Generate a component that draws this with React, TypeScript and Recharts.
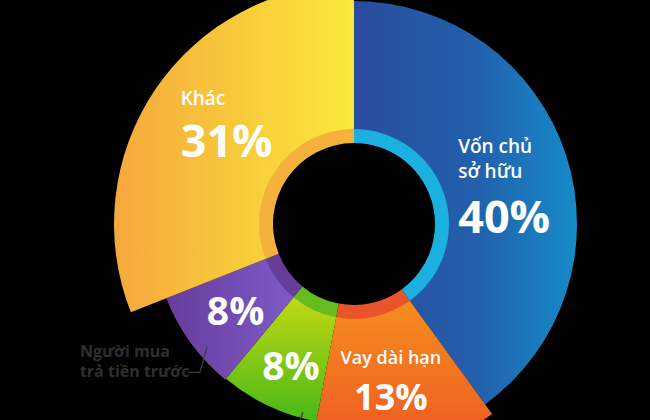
import React from 'react';
import { PieChart, Pie, Cell } from 'recharts';

// clockwise from 12 o'clock
const categories = ['Vốn chủ sở hữu', 'Vay dài hạn', 'Khoản khác', 'Người mua trả tiền trước', 'Khác'];
const shares = [40, 13, 8, 8, 31];
const insideNames = [['Vốn chủ', 'sở hữu'], ['Vay dài hạn'], [], [], ['Khác']];
const outsideNames = [[], [], [], ['Người mua', 'trả tiền trước'], []];

const data = categories.map((name, i) => ({ name, value: shares[i] }));

const FILLS = ['url(#gBlue)', 'url(#gOrange)', 'url(#gGreen)', 'url(#gPurple)', 'url(#gYellow)'];
const BANDS = ['#1cb0e0', '#e9552a', '#64bd1c', '#673d9c', '#f6b13c'];
const RADII = [223, 235, 201, 202, 240];

const CX = 354;
const CY = 224;
const LABEL_R = 160;
const RAD = Math.PI / 180;
const FONT = "'Open Sans', 'Noto Sans', sans-serif";

// per slice: anchor, x shift, baseline of each name line, baseline of the value
const LAYOUT = [
  { anchor: 'start', dx: -48, names: [-22, 3], value: 58, nameSize: 19, valueSize: 45 },
  { anchor: 'middle', dx: 2, names: [-16], value: 30, nameSize: 18, valueSize: 36 },
  { anchor: 'middle', dx: 5, names: [], value: 11, nameSize: 19, valueSize: 39 },
  { anchor: 'middle', dx: 11, names: [], value: 7, nameSize: 19, valueSize: 39 },
  { anchor: 'start', dx: -41, names: [-29], value: 23, nameSize: 19, valueSize: 45 },
];

const polar = (cx: number, cy: number, r: number, angle: number) => ({
  x: cx + r * Math.cos(-angle * RAD),
  y: cy + r * Math.sin(-angle * RAD),
});

const renderLabel = (props: any) => {
  const { cx, cy, midAngle, index, value } = props;
  const l = LAYOUT[index];
  const p = polar(cx, cy, LABEL_R, midAngle);
  const x = p.x + l.dx;
  const out = outsideNames[index];
  let pointer = null;
  if (index === 3) {
    const s = polar(cx, cy, 192, midAngle + 4);
    pointer = (
      <g>
        <polyline
          points={`${s.x},${s.y} ${s.x - 7},${s.y + 25} ${s.x - 19},${s.y + 25}`}
          fill="none"
          stroke="#3a3a3a"
          strokeWidth={1.3}
        />
        {out.map((t, k) => (
          <text key={k} x={s.x - 127} y={s.y + 10 + k * 20} fill="#2f2f2f" fontSize={16} fontWeight={700} fontFamily={FONT}>
            {t}
          </text>
        ))}
      </g>
    );
  }
  if (index === 2) {
    const s = polar(cx, cy, 195, midAngle + 10);
    pointer = <line x1={s.x} y1={s.y} x2={s.x - 5} y2={s.y + 14} stroke="#3a3a3a" strokeWidth={1.3} />;
  }
  return (
    <g key={`lbl-${index}`}>
      {insideNames[index].map((t, k) => (
        <text key={k} x={x} y={p.y + l.names[k]} textAnchor={l.anchor} fill="#fff" fontSize={l.nameSize} fontWeight={600} fontFamily={FONT}>
          {t}
        </text>
      ))}
      <text x={x} y={p.y + l.value} textAnchor={l.anchor} fill="#fff" fontSize={l.valueSize} fontWeight={700} fontFamily={FONT}>
        {`${value}%`}
      </text>
      {pointer}
    </g>
  );
};

export default function App() {
  return (
    <div style={{ position: 'fixed', left: 0, top: 0, width: 650, height: 420, background: '#000', overflow: 'hidden' }}>
      <PieChart width={650} height={420} margin={{ top: 0, right: 0, bottom: 0, left: 0 }}>
        <defs>
          <linearGradient id="gBlue" x1="0" y1="0" x2="1" y2="0">
            <stop offset="0%" stopColor="#2a4c9e" />
            <stop offset="55%" stopColor="#2260ac" />
            <stop offset="100%" stopColor="#168bc9" />
          </linearGradient>
          <linearGradient id="gOrange" x1="0" y1="0" x2="0" y2="1">
            <stop offset="0%" stopColor="#f58d1e" />
            <stop offset="100%" stopColor="#ee5424" />
          </linearGradient>
          <linearGradient id="gGreen" x1="0" y1="0" x2="0" y2="1">
            <stop offset="0%" stopColor="#c2d816" />
            <stop offset="100%" stopColor="#48b817" />
          </linearGradient>
          <linearGradient id="gPurple" x1="0" y1="0" x2="1" y2="0">
            <stop offset="0%" stopColor="#673c9c" />
            <stop offset="100%" stopColor="#7e5bc8" />
          </linearGradient>
          <linearGradient id="gYellow" x1="0" y1="0" x2="1" y2="0">
            <stop offset="0%" stopColor="#f5a83c" />
            <stop offset="100%" stopColor="#fae93a" />
          </linearGradient>
        </defs>
        {categories.map((_, i) => (
          <Pie
            key={`slice-${i}`}
            data={data}
            dataKey="value"
            nameKey="name"
            cx={CX}
            cy={CY}
            startAngle={90}
            endAngle={-270}
            innerRadius={94}
            outerRadius={RADII[i]}
            stroke="none"
            isAnimationActive={false}
          >
            {data.map((d, j) => (
              <Cell key={d.name} fill={j === i ? FILLS[i] : 'transparent'} />
            ))}
          </Pie>
        ))}
        <Pie
          data={data}
          dataKey="value"
          nameKey="name"
          cx={CX}
          cy={CY}
          startAngle={90}
          endAngle={-270}
          innerRadius={81}
          outerRadius={95}
          stroke="none"
          label={renderLabel}
          labelLine={false}
          isAnimationActive={false}
        >
          {data.map((d, j) => (
            <Cell key={d.name} fill={BANDS[j]} />
          ))}
        </Pie>
      </PieChart>
    </div>
  );
}
